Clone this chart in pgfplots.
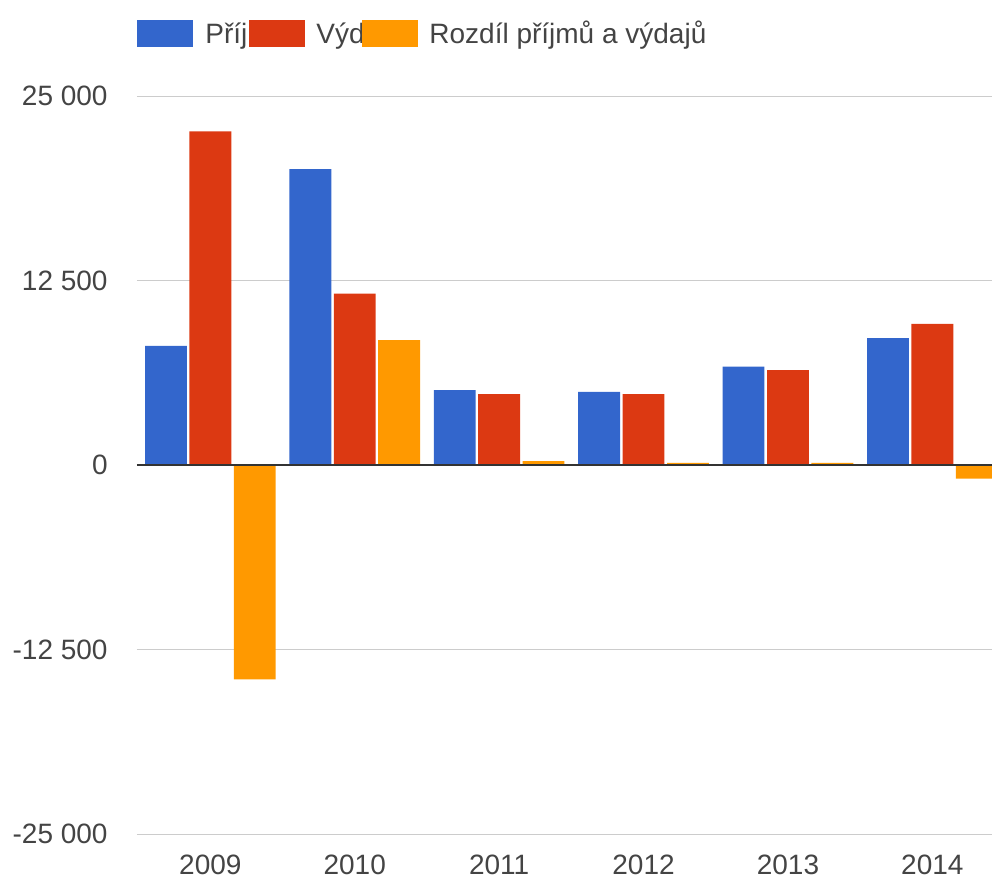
\documentclass[border=0pt]{standalone}
\usepackage{fontspec}
\setmainfont{Liberation Sans}
\usepackage{pgfplots}
\pgfplotsset{compat=1.18}
\definecolor{gblue}{HTML}{3366CC}
\definecolor{gred}{HTML}{DC3912}
\definecolor{gorange}{HTML}{FF9900}
\definecolor{txt}{HTML}{444444}
\definecolor{gridc}{HTML}{CCCCCC}
\definecolor{zeroc}{HTML}{333333}
\begin{document}
\begin{tikzpicture}
\path[use as bounding box] (0pt,0pt) rectangle (496pt,440pt);
\begin{axis}[
  at={(68.5pt,23pt)}, anchor=south west,
  scale only axis, width=427.5pt, height=369pt,
  xmin=-0.508, xmax=5.413, ymin=-25000, ymax=25000,
  ybar, bar width=0.29,
  axis line style={draw=none}, tick style={draw=none},
  major tick length=0pt,
  ymajorgrids, grid style={gridc, line width=0.5pt},
  ytick={-25000,-12500,0,12500,25000},
  yticklabels={-25 000,-12 500,0,12 500,25 000},
  xtick={0,1,2,3,4,5}, xticklabels={2009,2010,2011,2012,2013,2014},
  ticklabel style={font=\fontsize{14}{16}\selectfont, text=txt, inner sep=0pt},
  yticklabel style={anchor=east, xshift=-14.5pt},
  xticklabel style={anchor=north, yshift=-10.5pt},
  scaled y ticks=false,
]
\addplot[fill=gblue, draw=none, bar shift=-0.3075] coordinates {
  (0,8075) (1,20050) (2,5080) (3,4950) (4,6660) (5,8600)};
\addplot[fill=gred, draw=none, bar shift=0] coordinates {
  (0,22610) (1,11610) (2,4810) (3,4810) (4,6420) (5,9570)};
\addplot[fill=gorange, draw=none, bar shift=0.3075] coordinates {
  (0,-14530) (1,8460) (2,260) (3,140) (4,150) (5,-930)};
\draw[zeroc, line width=1pt] (axis cs:-0.508,0) -- (axis cs:5.413,0);
\end{axis}
\fill[gblue] (68.5pt,416.5pt) rectangle (96.5pt,430pt);
\begin{scope}
\clip (100pt,400pt) rectangle (124.5pt,440pt);
\node[anchor=base west, inner sep=0pt, text=txt, font=\fontsize{14}{16}\selectfont] at (102.5pt,418.35pt) {Příjmy};
\end{scope}
\fill[gred] (124.5pt,416.5pt) rectangle (152.5pt,430pt);
\begin{scope}
\clip (155pt,400pt) rectangle (181pt,440pt);
\node[anchor=base west, inner sep=0pt, text=txt, font=\fontsize{14}{16}\selectfont] at (158pt,418.35pt) {Výdaje};
\end{scope}
\fill[gorange] (181pt,416.5pt) rectangle (209pt,430pt);
\node[anchor=base west, inner sep=0pt, text=txt, font=\fontsize{14}{16}\selectfont] at (214.5pt,418.35pt) {Rozdíl příjmů a výdajů};
\end{tikzpicture}
\end{document}
